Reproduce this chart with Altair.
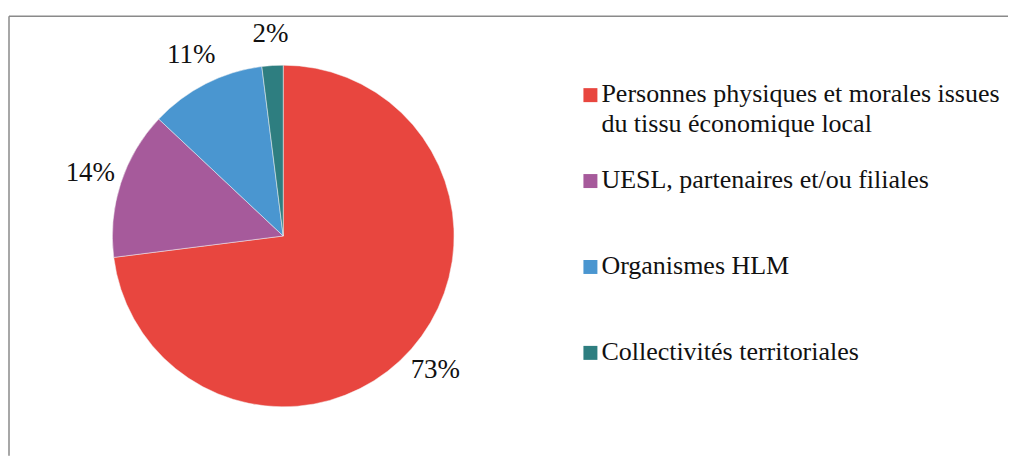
import altair as alt
import pandas as pd

categories = [
    "Personnes physiques et morales issues du tissu économique local",
    "UESL, partenaires et/ou filiales",
    "Organismes HLM",
    "Collectivités territoriales",
]
legend_labels = [
    "Personnes physiques et morales issues\ndu tissu économique local",
    "UESL, partenaires et/ou filiales",
    "Organismes HLM",
    "Collectivités territoriales",
]
values = [73, 14, 11, 2]
colors = ["#E8463F", "#A65A9B", "#4A96D0", "#2E7E80"]

df = pd.DataFrame({
    "cat": categories,
    "legend_label": legend_labels,
    "value": values,
    "idx": list(range(len(categories))),
})

FONT = "'Liberation Serif', 'Times New Roman', Times, 'DejaVu Serif', serif"
W, H = 1000, 440
CX, CY = 274.5, 220

color = alt.Color("cat:N", scale=alt.Scale(domain=categories, range=colors), legend=None)
theta = alt.Theta("value:Q", stack=True)
order = alt.Order("idx:Q", sort="ascending")

base = alt.Chart(df)

pie = base.mark_arc(radius=171, stroke="#f4f4f4", strokeWidth=0.5).encode(
    theta=theta, color=color, order=order,
    x=alt.value(CX), y=alt.value(CY),
)

pct = base.transform_calculate(label="datum.value + '%'").mark_text(
    radius=203, font=FONT, fontSize=27, color="#111111"
).encode(
    theta=theta, order=order, text="label:N",
    x=alt.value(CX), y=alt.value(CY),
)

ypos = alt.Y("cat:N", sort=categories,
             scale=alt.Scale(domain=categories, range=[79, 337], padding=0),
             axis=None)

leg_sym = base.mark_square(size=196, opacity=1).encode(
    x=alt.value(582), y=ypos, color=color,
)

leg_txt = base.mark_text(
    align="left", baseline="alphabetic", dy=7, lineBreak="\n", lineHeight=30,
    font=FONT, fontSize=26, color="#111111",
).encode(
    x=alt.value(593), y=ypos, text="legend_label:N",
)

frame_top = alt.Chart(alt.Data(values=[{}])).mark_rule(color="#8a8a8a", strokeWidth=1.5).encode(
    x=alt.value(0), x2=alt.value(W), y=alt.value(0)
)
frame_left = alt.Chart(alt.Data(values=[{}])).mark_rule(color="#8a8a8a", strokeWidth=1.5).encode(
    x=alt.value(0), y=alt.value(0), y2=alt.value(H)
)

chart = alt.layer(frame_top, frame_left, pie, pct, leg_sym, leg_txt).properties(
    width=W, height=H,
    autosize=alt.AutoSizeParams(type="none"),
    padding={"left": 1, "top": 8, "right": 0, "bottom": 0},
).configure_view(stroke=None)

chart.save("out.html", embed_options={"renderer": "svg", "actions": False})
